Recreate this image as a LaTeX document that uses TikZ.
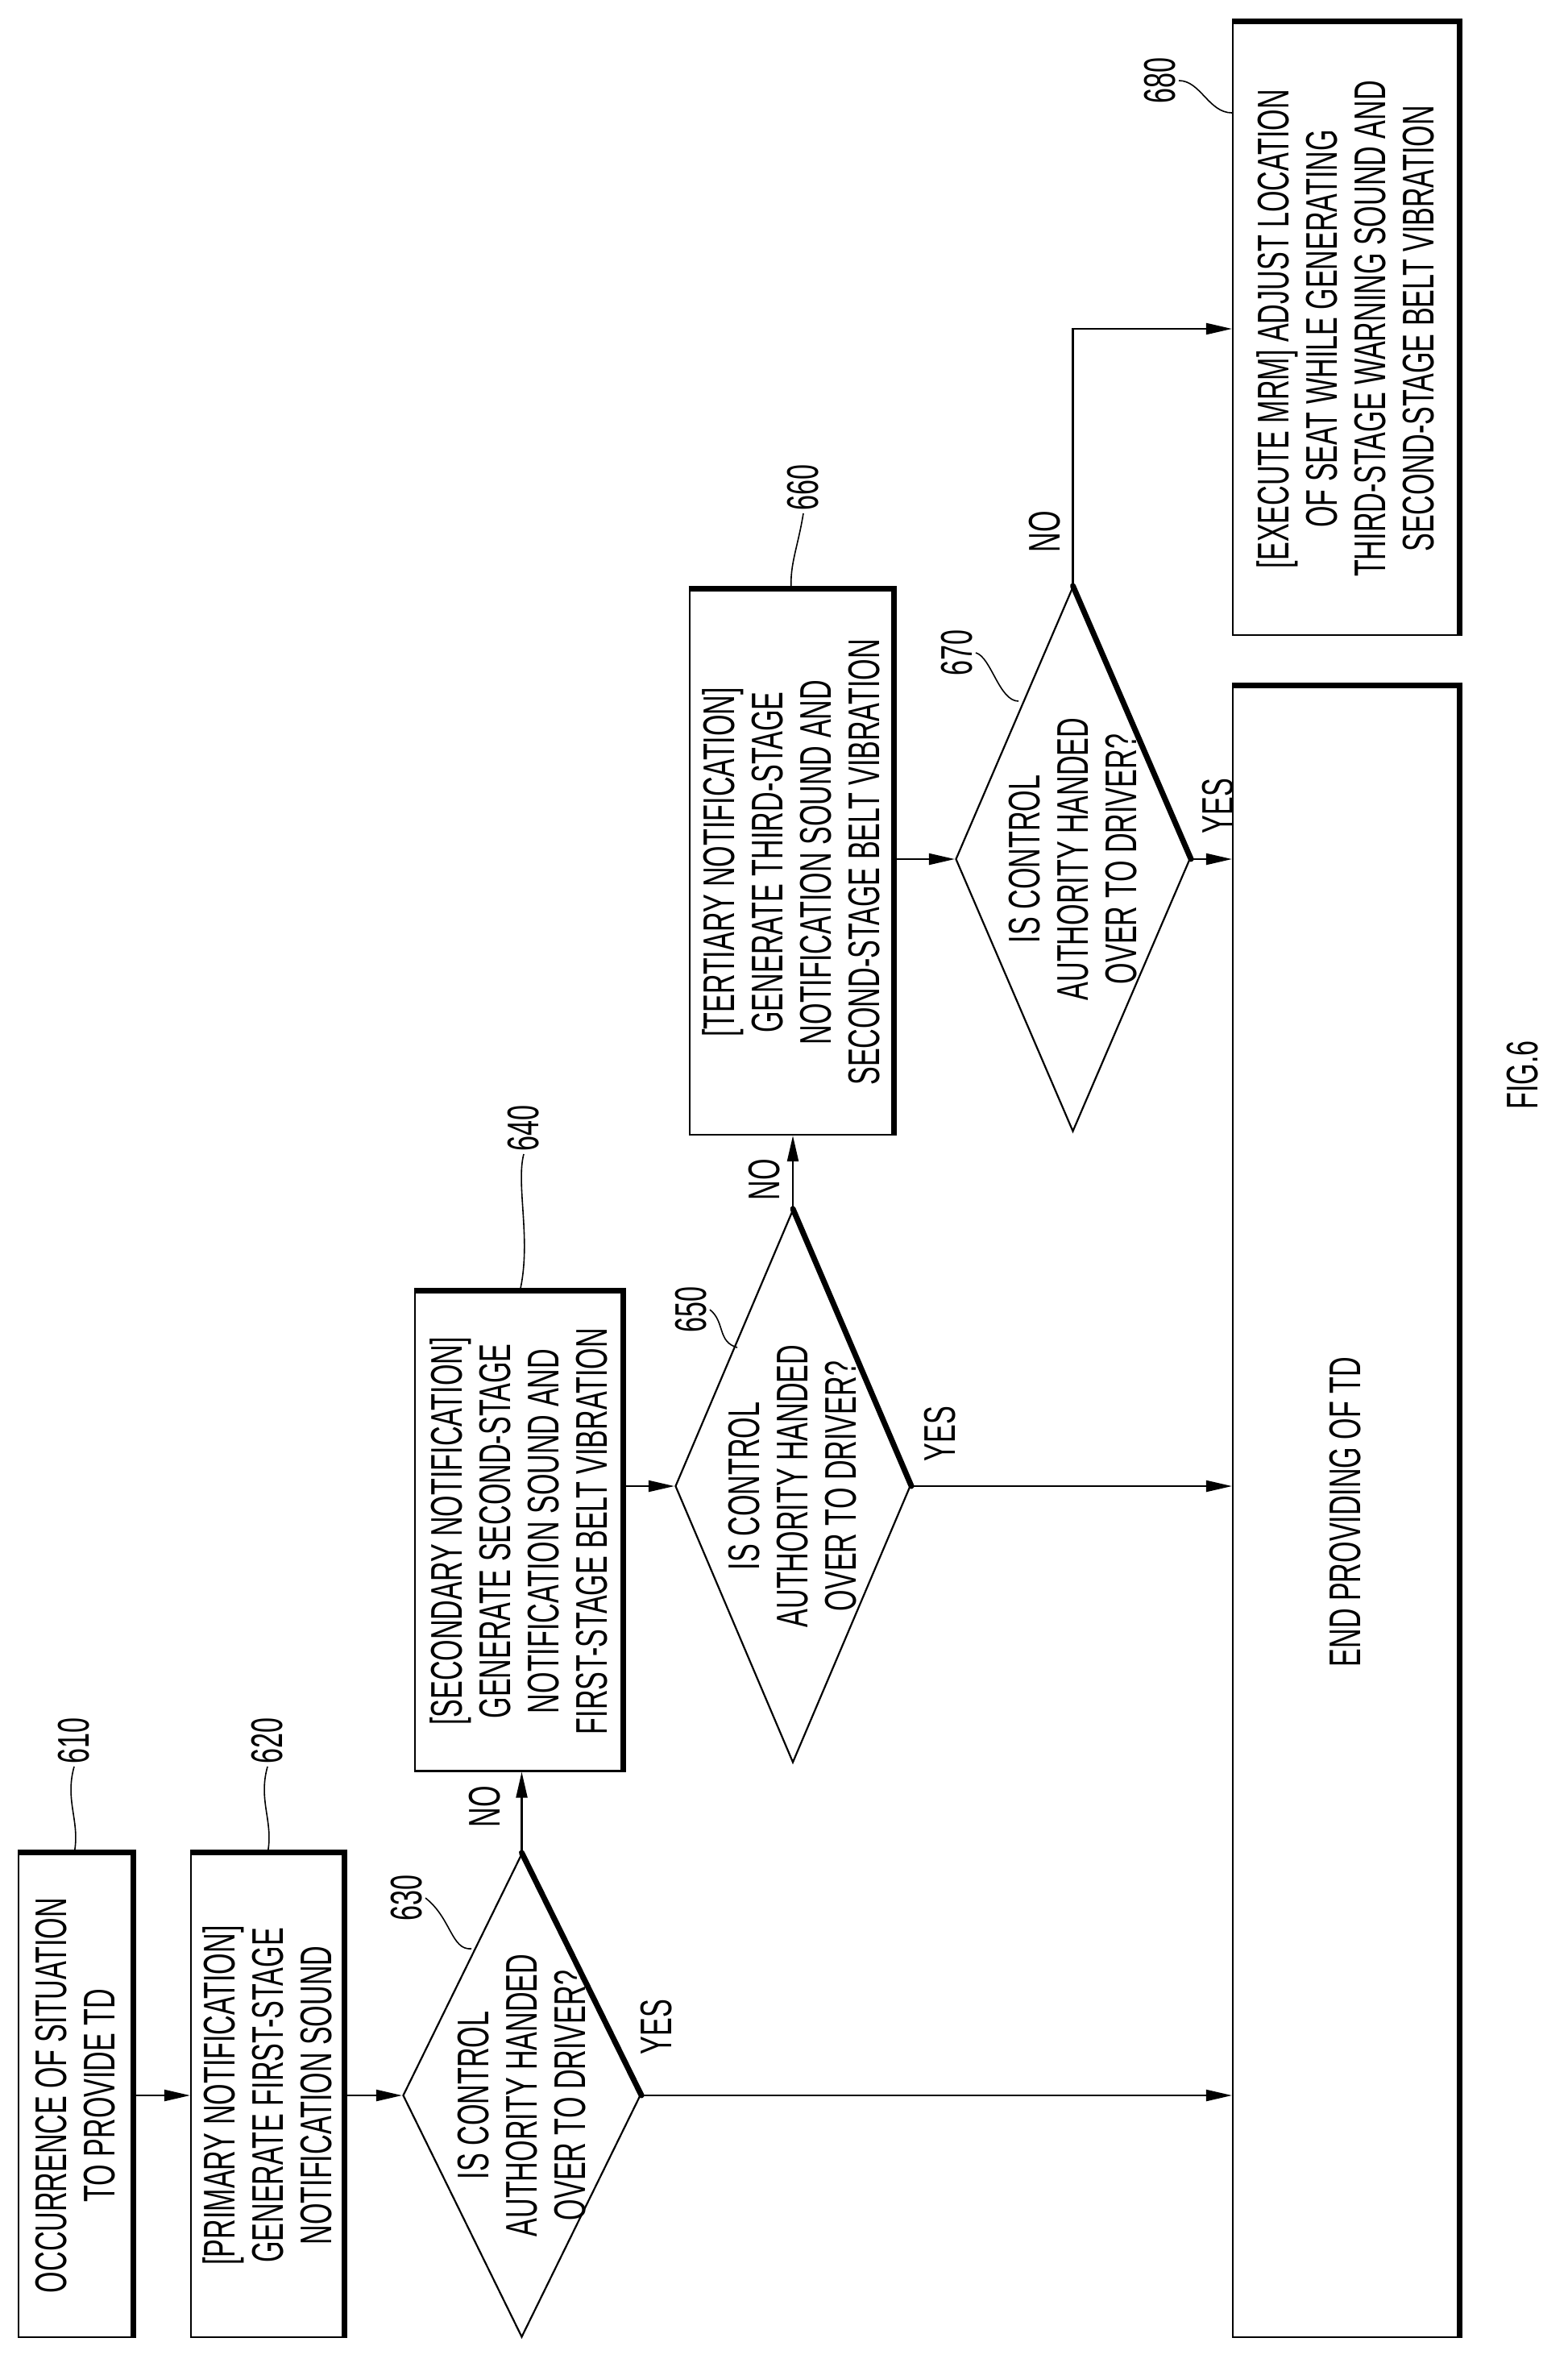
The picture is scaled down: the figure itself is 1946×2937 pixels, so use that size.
\documentclass[tikz,border=0pt]{standalone}
\usepackage{fontspec}
\setmainfont{Liberation Sans}[FakeStretch=0.62]
\usetikzlibrary{shapes.geometric,arrows.meta}
\begin{document}
\begin{tikzpicture}[x=1pt,y=-1pt,
  box/.style={draw,line width=2.2pt,rectangle,inner sep=0pt},
  dia/.style={draw,line width=2.2pt,diamond,inner sep=0pt},
  txt/.style={rotate=90,align=center,font=\fontsize{55}{60}\selectfont},
  lbl/.style={rotate=90,font=\fontsize{55}{58}\selectfont},
  heavy/.style={line width=7pt},
  arr/.style={line width=2.2pt,-{Triangle[length=32pt,width=14pt]}},
  lead/.style={line width=1.6pt}]
\useasboundingbox (0,0) rectangle (1946,2937);
% boxes
\node[box,minimum width=141pt,minimum height=600pt] (b610) at (93.5,2600) {};
\node[box,minimum width=189pt,minimum height=600pt] (b620) at (331.5,2600) {};
\node[dia,minimum width=295pt,minimum height=600pt] (d630) at (647.5,2600) {};
\node[box,minimum width=257pt,minimum height=595pt] (b640) at (643.5,1900) {};
\node[dia,minimum width=292pt,minimum height=686pt] (d650) at (984,1844) {};
\node[box,minimum width=252pt,minimum height=676pt] (b660) at (982,1070) {};
\node[dia,minimum width=291pt,minimum height=676pt] (d670) at (1331.5,1066) {};
\node[box,minimum width=280pt,minimum height=760pt] (b680) at (1670,408) {};
\node[box,minimum width=280pt,minimum height=2048pt] (bend) at (1670,1876) {};
\foreach \n in {b610,b620,b640,b660,b680,bend}
  \draw[heavy] (\n.north west) -- (\n.north east) -- (\n.south east);
\foreach \n in {d630,d650,d670}
  \draw[heavy,line cap=round] (\n.north) -- (\n.east);
% texts
\node[txt] (t610) at (b610) {OCCURRENCE OF SITUATION\\TO PROVIDE TD};
\node[txt] (t620) at (b620) {[PRIMARY NOTIFICATION]\\GENERATE FIRST-STAGE\\NOTIFICATION SOUND};
\node[txt] (t630) at (d630) {IS CONTROL\\AUTHORITY HANDED\\OVER TO DRIVER?};
\node[txt] (t640) at (b640) {[SECONDARY NOTIFICATION]\\GENERATE SECOND-STAGE\\NOTIFICATION SOUND AND\\FIRST-STAGE BELT VIBRATION};
\node[txt] (t650) at (d650) {IS CONTROL\\AUTHORITY HANDED\\OVER TO DRIVER?};
\node[txt] (t660) at (b660) {[TERTIARY NOTIFICATION]\\GENERATE THIRD-STAGE\\NOTIFICATION SOUND AND\\SECOND-STAGE BELT VIBRATION};
\node[txt] (t670) at (d670) {IS CONTROL\\AUTHORITY HANDED\\OVER TO DRIVER?};
\node[txt] (t680) at (b680) {[EXECUTE MRM] ADJUST LOCATION\\OF SEAT WHILE GENERATING\\THIRD-STAGE WARNING SOUND AND\\SECOND-STAGE BELT VIBRATION};
\node[txt] (tend) at (bend) {END PROVIDING OF TD};
\node[lbl] (fig) at (1890,1334) {FIG.6};
% connectors
\draw[arr] (b610.east |- d630.west) -- (b620.west |- d630.west);
\draw[arr] (b620.east |- d630.west) -- (d630.west);
\draw[arr] (d630.north) -- (d630.north |- b640.south);
\draw[arr] (d630.east) -- (d630.east -| bend.west);
\draw[arr] (b640.east |- d650.west) -- (d650.west);
\draw[arr] (d650.north) -- (d650.north |- b660.south);
\draw[arr] (d650.east) -- (d650.east -| bend.west);
\draw[arr] (b660.east |- d670.west) -- (d670.west);
\draw[arr] (d670.east) -- (d670.east -| bend.west);
\coordinate (k670) at (d670.north |- b680.west);
\draw[arr] (d670.north) -- (k670) -- (b680.west);
% yes/no
\node[lbl] (n630) at (602,2242) {NO};
\node[lbl] (y630) at (815,2515) {YES};
\node[lbl] (n650) at (949,1464) {NO};
\node[lbl] (y650) at (1167,1779) {YES};
\node[lbl] (y670) at (1512,1000) {YES};
\node[lbl] (n670) at (1297,660) {NO};
% reference numbers
\node[lbl] (r610) at (92,2160) {610};
\draw[lead] (r610.west) .. controls (80,2235) and (100,2260) .. (92,2300);
\node[lbl] (r620) at (332,2160) {620};
\draw[lead] (r620.west) .. controls (320,2235) and (340,2260) .. (332,2300);
\node[lbl] (r630) at (505,2355) {630};
\draw[lead] (r630.south) .. controls (560,2380) and (560,2420) .. (585,2418);
\node[lbl] (r640) at (650,1400) {640};
\draw[lead] (r640.west) .. controls (640,1470) and (660,1540) .. (645,1603);
\node[lbl] (r650) at (858,1625) {650};
\draw[lead] (r650.south) .. controls (900,1640) and (890,1665) .. (915,1672);
\node[lbl] (r660) at (997,605) {660};
\draw[lead] (r660.west) .. controls (990,680) and (980,700) .. (982,732);
\node[lbl] (r670) at (1188,810) {670};
\draw[lead] (r670.south) .. controls (1230,815) and (1240,870) .. (1264,870);
\node[lbl] (r680) at (1440,100) {680};
\draw[lead] (r680.south) .. controls (1490,100) and (1500,140) .. (b680.north west |- 0,140);
\end{tikzpicture}
\end{document}
